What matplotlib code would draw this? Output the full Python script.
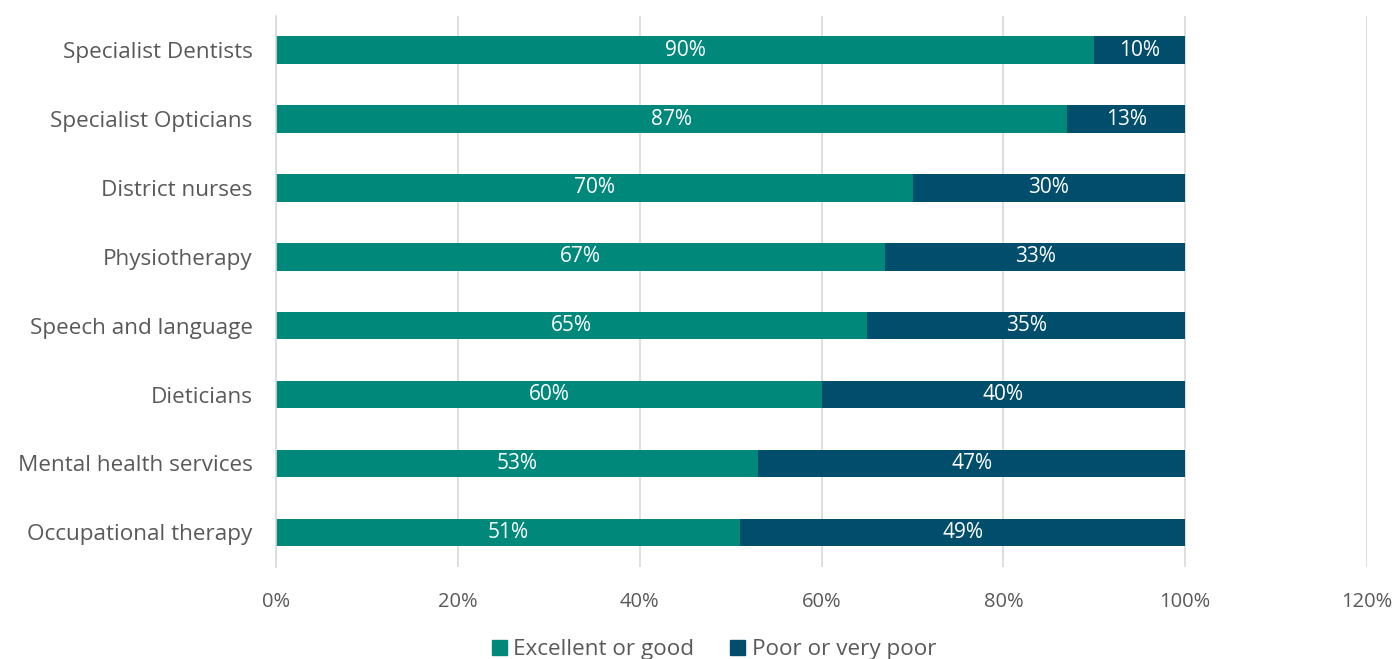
import matplotlib.pyplot as plt
from matplotlib.patches import Patch

plt.rcParams['font.family'] = ['Open Sans', 'DejaVu Sans']

servicios = ['Specialist Dentists', 'Specialist Opticians', 'District nurses',
             'Physiotherapy', 'Speech and language', 'Dieticians',
             'Mental health services', 'Occupational therapy']
bueno = [90, 87, 70, 67, 65, 60, 53, 51]
malo = [10, 13, 30, 33, 35, 40, 47, 49]

VERDE = '#00887A'
AZUL = '#004E6B'
GRIS = '#595959'

fig = plt.figure(figsize=(13.95, 6.59), dpi=100)
ax = fig.add_axes([0.198, 0.140, 0.782, 0.836])

y = list(range(len(servicios)))
b1 = ax.barh(y, bueno, height=0.4, color=VERDE)
b2 = ax.barh(y, malo, left=bueno, height=0.4, color=AZUL)

for barras, vals in ((b1, bueno), (b2, malo)):
    for b, v in zip(barras, vals):
        ax.text(b.get_x() + b.get_width() / 2, b.get_y() + b.get_height() / 2,
                f'{v}%', ha='center', va='center', color='white', fontsize=15)

ax.set_xlim(0, 120)
ax.set_ylim(len(servicios) - 0.5, -0.5)
ax.set_yticks(y)
ax.set_yticklabels(servicios)
ax.set_xticks(range(0, 121, 20))
ax.set_xticklabels([f'{v}%' for v in range(0, 121, 20)])
ax.tick_params(length=0, labelsize=14.5, colors=GRIS)
ax.tick_params(axis='y', pad=17, labelsize=16.2)
ax.tick_params(axis='x', pad=18)
ax.grid(axis='x', color='#D9D9D9', linewidth=1.2)
ax.set_axisbelow(True)
for s in ['top', 'right', 'bottom']:
    ax.spines[s].set_visible(False)
ax.spines['left'].set_color('#D9D9D9')
ax.spines['left'].set_linewidth(1.2)

fig.legend(handles=[Patch(color=VERDE, label='Excellent or good'),
                    Patch(color=AZUL, label='Poor or very poor')],
           loc='center', bbox_to_anchor=(0.512, 0.014), ncol=2, frameon=False,
           fontsize=16.2, labelcolor=GRIS, handlelength=0.65, handleheight=0.65,
           handletextpad=0.3, columnspacing=1.6)

plt.savefig('out.png')
